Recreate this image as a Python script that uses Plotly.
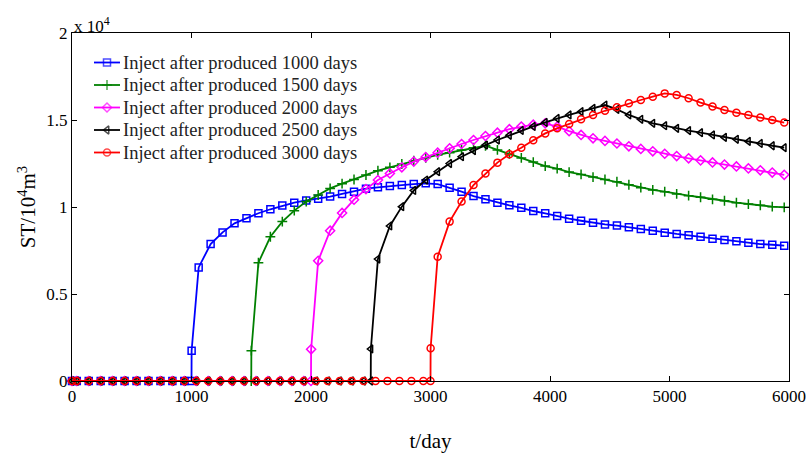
import plotly.graph_objects as go

# Injection start (days of production before injection) for each case
inject_days = [1000, 1500, 2000, 2500, 3000]
labels = [f"Inject after produced {d} days" for d in inject_days]
colors = ["#0000FF", "#008000", "#FF00FF", "#000000", "#FF0000"]
symbols = ["square-open", "cross-thin-open", "diamond-open", "triangle-left-open", "circle-open"]

# Last simulation time step (days)
t_end = 5960

# ST (10^4 m^3): value at the injection step, then every 100 days from T+60
st_1000 = [0.174,
           0.653, 0.787, 0.854, 0.906, 0.935, 0.964, 0.987, 1.008, 1.025, 1.038,
           1.048, 1.060, 1.075, 1.088, 1.105, 1.113, 1.121, 1.126, 1.132, 1.136,
           1.132, 1.111, 1.088, 1.063, 1.044, 1.025, 1.010, 0.995, 0.977, 0.964,
           0.948, 0.933, 0.921, 0.910, 0.900, 0.893, 0.883, 0.874, 0.864, 0.852,
           0.845, 0.837, 0.829, 0.818, 0.810, 0.803, 0.795, 0.787, 0.783, 0.778]
st_1500 = [0.174,
           0.680, 0.829, 0.916, 0.979, 1.031, 1.069, 1.107, 1.134, 1.158, 1.184,
           1.209, 1.228, 1.247, 1.266, 1.283, 1.299, 1.312, 1.328, 1.341, 1.352,
           1.328, 1.305, 1.282, 1.258, 1.235, 1.220, 1.201, 1.187, 1.172, 1.158,
           1.145, 1.128, 1.111, 1.098, 1.088, 1.075, 1.065, 1.056, 1.044, 1.036,
           1.025, 1.017, 1.010, 1.002, 0.998]
st_2000 = [0.182,
           0.691, 0.864, 0.966, 1.042, 1.103, 1.155, 1.193, 1.228, 1.261, 1.287,
           1.312, 1.337, 1.362, 1.385, 1.408, 1.427, 1.447, 1.462, 1.473, 1.481,
           1.462, 1.436, 1.414, 1.395, 1.380, 1.365, 1.349, 1.334, 1.320, 1.306,
           1.293, 1.280, 1.268, 1.256, 1.244, 1.233, 1.222, 1.211, 1.198, 1.185]
st_2500 = [0.184,
           0.701, 0.891, 1.002, 1.095, 1.155, 1.203, 1.250, 1.289, 1.324, 1.356,
           1.385, 1.412, 1.440, 1.463, 1.486, 1.509, 1.529, 1.548, 1.567, 1.586,
           1.561, 1.529, 1.504, 1.481, 1.467, 1.452, 1.439, 1.427, 1.414, 1.400,
           1.389, 1.377, 1.365, 1.352, 1.341]
st_3000 = [0.188,
           0.714, 0.916, 1.031, 1.126, 1.193, 1.255, 1.303, 1.340, 1.383, 1.423,
           1.452, 1.477, 1.504, 1.529, 1.553, 1.573, 1.596, 1.615, 1.634, 1.653,
           1.644, 1.625, 1.600, 1.577, 1.557, 1.542, 1.529, 1.515, 1.500, 1.485]
st_series = [st_1000, st_1500, st_2000, st_2500, st_3000]


def time_steps(T):
    """Report times: 0, every 100 days from 40 until injection at T,
    the injection step itself, then every 100 days from T+60."""
    pre = [0] + [t for t in range(40, T, 100)] + [T]
    post = [T + 1] + [t for t in range(T + 60, t_end + 1, 100)]
    return pre, post


W, H = 808, 453
ML, MR, MT, MB = 72, 19, 33, 72
serif = "Liberation Serif, Times New Roman, serif"

fig = go.Figure()
for T, vals, name, c, sym in zip(inject_days, st_series, labels, colors, symbols):
    pre, post = time_steps(T)
    x = pre + post
    y = [0.0] * len(pre) + vals
    fig.add_trace(go.Scatter(
        x=x, y=y, name=name, mode="lines+markers",
        line=dict(color=c, width=1.8),
        marker=dict(symbol=sym, size=7, color=c, line=dict(color=c, width=1.5)),
        cliponaxis=False, showlegend=False,
    ))

# Legend drawn on a hidden overlay axis measured in pixels of the figure
leg_x0, leg_x1, leg_y0, leg_dy = 94, 120, 62.5, 22.5
for i, (name, c, sym) in enumerate(zip(labels, colors, symbols)):
    yy = leg_y0 + i * leg_dy
    fig.add_trace(go.Scatter(
        x=[leg_x0, (leg_x0 + leg_x1) / 2, leg_x1], y=[yy, yy, yy],
        xaxis="x2", yaxis="y2", mode="lines+markers",
        line=dict(color=c, width=1.8),
        marker=dict(symbol=sym, size=[0, 7, 0], color=c, line=dict(color=c, width=1.5)),
        cliponaxis=False, showlegend=False, hoverinfo="skip",
    ))
    fig.add_annotation(
        xref="x2", yref="y2", x=leg_x1 + 1, y=yy, xanchor="left", yanchor="middle",
        text=name, showarrow=False,
        font=dict(family=serif, size=18.5, color="#222"),
    )

fig.update_layout(
    width=W, height=H,
    margin=dict(l=ML, r=MR, t=MT, b=MB, autoexpand=False),
    paper_bgcolor="white", plot_bgcolor="white",
    font=dict(family=serif, color="black", size=17),
    showlegend=False,
    xaxis=dict(
        range=[0, 6000], tickvals=[0, 1000, 2000, 3000, 4000, 5000, 6000],
        ticks="inside", ticklen=5, tickcolor="black",
        showline=True, linecolor="black", linewidth=1, mirror="ticks",
        showgrid=False, zeroline=False, automargin=False,
        tickfont=dict(family=serif, size=17),
        title=dict(text="t/day", font=dict(family=serif, size=21), standoff=28),
    ),
    yaxis=dict(
        range=[0, 2], tickvals=[0, 0.5, 1, 1.5, 2],
        ticktext=["0", "0.5", "1", "1.5", "2"],
        ticks="inside", ticklen=5, tickcolor="black",
        showline=True, linecolor="black", linewidth=1, mirror="ticks",
        showgrid=False, zeroline=False, automargin=False,
        tickfont=dict(family=serif, size=17),
        title=dict(text="ST/10<sup>4</sup>m<sup>3</sup>", font=dict(family=serif, size=21), standoff=4),
    ),
    xaxis2=dict(overlaying="x", range=[ML, W - MR], visible=False, fixedrange=True),
    yaxis2=dict(overlaying="y", range=[H - MB, MT], visible=False, fixedrange=True),
)

# Axis multiplier above the y axis
fig.add_annotation(
    xref="paper", yref="paper", x=0.0, y=1.0, xanchor="left", yanchor="bottom",
    text="x 10<sup>4</sup>", showarrow=False,
    font=dict(family=serif, size=17, color="black"), yshift=-5,
)

fig.write_html("out.html")
